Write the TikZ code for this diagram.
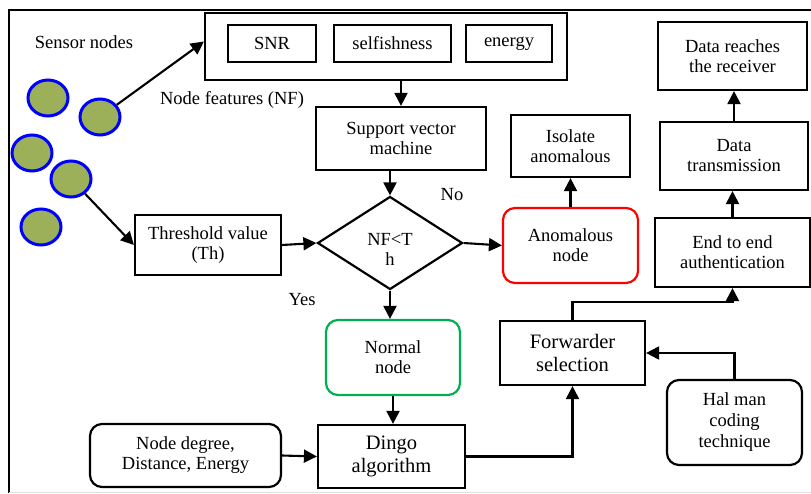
\documentclass[tikz,border=0pt]{standalone}
\usepackage{fontspec}
\setmainfont{Liberation Serif}
\newfontfamily\timesfont{Liberation Serif}
\usetikzlibrary{arrows.meta,shapes.geometric}
\definecolor{sgreen}{RGB}{155,176,89}
\definecolor{nblue}{RGB}{0,0,255}
\definecolor{ngreen}{RGB}{0,176,80}
\begin{document}
\begin{tikzpicture}[x=1pt,y=-1pt,
  font=\timesfont\fontsize{18.5}{20}\selectfont,
  box/.style={draw, line width=2.2pt, align=center, inner sep=0pt},
  rbox/.style={box, rounded corners=12pt},
  sens/.style={ellipse, draw=nblue, fill=sgreen, line width=3pt, minimum width=40pt, minimum height=36pt, inner sep=0pt},
  arr/.style={line width=2.1pt, -{Triangle[length=13pt,width=13pt]}},
  bigtext/.style={font=\timesfont\fontsize{20.5}{23}\selectfont}
]
\useasboundingbox (0,0) rectangle (811,494);
% outer frame
\draw[line width=2.2pt] (811,10) -- (9,10) -- (9,493);
\draw[line width=0.8pt, black!12] (9,492) -- (811,492);

\node (sl) at (84,42) {Sensor nodes};
\node (c1) [sens] at (48,98) {};
\node (c2) [sens] at (100,117) {};
\node (c3) [sens] at (32,153) {};
\node (c4) [sens] at (71,179) {};
\node (c5) [sens] at (41,227) {};

\node (nf) [box, minimum width=362pt, minimum height=67pt] at (386,46.5) {};
\node (snr) [box, minimum width=88pt, minimum height=37pt] at (272,43.5) {SNR};
\node (self) [box, minimum width=117pt, minimum height=37pt] at (392.5,43.5) {selfishness};
\node (en) [box, minimum width=86pt, minimum height=37pt] at (509,43.5) {energy};
\node (nfl) at (232,100) {Node features (NF)};

\node (svm) [box, minimum width=170pt, minimum height=63pt] at (401,138.5) {Support vector\\machine};
\node (thr) [box, minimum width=146pt, minimum height=60pt] at (208,245) {Threshold value\\(Th)};
\node (dia) [diamond, draw, line width=2.2pt, align=center, inner sep=0pt, minimum width=145pt, minimum height=93pt, aspect=1.56] at (390,243) {};
\node (diat) [align=center] at (390,249) {NF<T\\h};
\node (no) at (452,195) {No};
\node (yes) at (302,300) {Yes};

\node (anom) [rbox, draw=red, minimum width=135pt, minimum height=75pt] at (570.5,245.5) {Anomalous\\node};
\node (iso) [box, minimum width=119pt, minimum height=62pt] at (570.5,146) {Isolate\\anomalous};
\node (norm) [rbox, draw=ngreen, minimum width=134pt, minimum height=75pt] at (393,357.5) {Normal\\node};
\node (dingo) [box, bigtext, minimum width=147pt, minimum height=63pt] at (391.5,456.5) {Dingo\\algorithm};
\node (nd) [rbox, minimum width=191pt, minimum height=63pt] at (185.5,455.5) {Node degree,\\Distance, Energy};
\node (fwd) [box, bigtext, minimum width=145pt, minimum height=64pt] at (572.5,353) {Forwarder\\selection};
\node (hal) [rbox, minimum width=135pt, minimum height=85pt, font=\timesfont\fontsize{18.5}{21}\selectfont] at (734.5,422.5) {Hal man\\coding\\technique};
\node (e2e) [box, minimum width=155pt, minimum height=69pt] at (732.5,252.5) {End to end\\authentication};
\node (dt) [box, minimum width=148pt, minimum height=68pt] at (734,156) {Data\\transmission};
\node (dr) [box, minimum width=149pt, minimum height=68pt] at (732.5,56) {Data reaches\\the receiver};

% connectors
\draw[arr] (c2) -- ([yshift=5pt]nf.west);
\draw[arr] (c4) -- (thr.west);
\draw[arr] (svm.north |- nf.south) -- (svm.north);
\draw[arr] (dia.north |- svm.south) -- (dia.north);
\draw[arr] (thr.east) -- (dia.west);
\draw[arr] (dia.east) -- (anom.west);
\draw[arr] (anom.north) -- (iso.south);
\draw[arr] (dia.south) -- (dia.south |- norm.north);
\draw[arr] (norm.south) -- (norm.south |- dingo.north);
\draw[arr] (nd.east) -- (dingo.west);
\draw[arr] (dingo.east) -| (fwd.south);
\draw[arr] (fwd.north) -- ++(0,-18) -| (e2e.south);
\draw[arr] (hal.north) |- (fwd.east);
\draw[arr] (e2e.north) -- (e2e.north |- dt.south);
\draw[arr] (dt.north) -- (dt.north |- dr.south);
\end{tikzpicture}
\end{document}
